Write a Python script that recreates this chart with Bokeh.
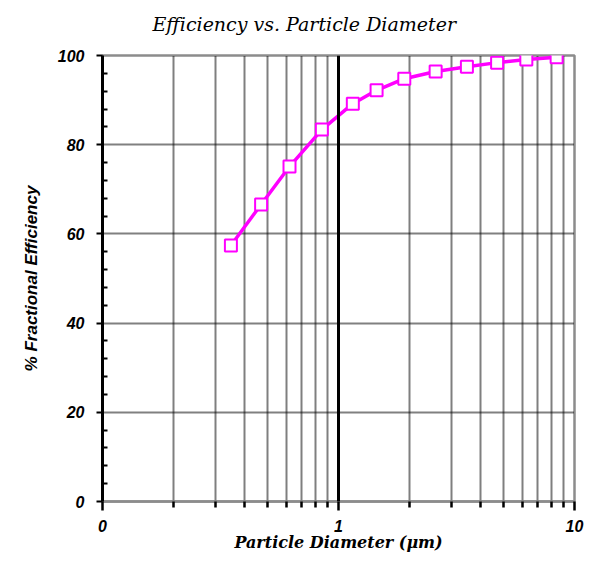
from bokeh.plotting import figure
from bokeh.models import Range1d, FixedTicker, Span, Title
from bokeh.embed import file_html
from bokeh.resources import INLINE

# data
diameter = [0.35, 0.47, 0.62, 0.85, 1.15, 1.45, 1.9, 2.58, 3.5, 4.7, 6.25, 8.4]
efficiency = [57.4, 66.6, 75.1, 83.4, 89.2, 92.2, 94.8, 96.4, 97.5, 98.4, 99.1, 99.6]

x_major = [0.1, 1, 10]
x_tick_labels = ["0", "1", "10"]
x_minor = [0.2, 0.3, 0.4, 0.5, 0.6, 0.7, 0.8, 0.9, 2, 3, 4, 5, 6, 7, 8, 9]
y_major = [0, 20, 40, 60, 80, 100]
y_minor = [4, 8, 12, 16, 24, 28, 32, 36, 44, 48, 52, 56, 64, 68, 72, 76, 84, 88, 92, 96]
y_grid = [20, 40, 60, 80]
title_text = "Efficiency vs. Particle Diameter"

p = figure(width=596, height=558, x_axis_type="log",
           x_range=Range1d(0.1, 10), y_range=Range1d(0, 100),
           output_backend="svg", toolbar_location=None,
           min_border_left=102, min_border_right=22, min_border_top=55, min_border_bottom=57,
           frame_width=472, frame_height=446)

# spacer between the frame and the title, then the title itself
p.add_layout(Title(text=" ", text_font_size="17px", standoff=0), "above")
p.add_layout(Title(text=title_text, text_font="DejaVu Serif", text_font_style="italic",
                   text_font_size="19px", text_color="black", align="left",
                   offset=50, standoff=0), "above")

p.outline_line_color = "#8c8c8c"
p.outline_line_width = 2.5
p.background_fill_color = "white"
p.border_fill_color = "white"

# grids
p.xgrid.ticker = FixedTicker(ticks=x_minor)
p.xgrid.grid_line_color = "black"
p.xgrid.grid_line_width = 2
p.xgrid.grid_line_dash = "1 1"
p.ygrid.ticker = FixedTicker(ticks=y_grid)
p.ygrid.grid_line_color = "black"
p.ygrid.grid_line_width = 2
p.ygrid.grid_line_dash = "1 1"

p.add_layout(Span(location=1, dimension="height", line_color="black", line_width=3))

# x axis
xa = p.xaxis[0]
xa.ticker = FixedTicker(ticks=x_major, minor_ticks=x_minor)
xa.major_label_overrides = {v: t for v, t in zip(x_major, x_tick_labels)}
xa.axis_line_color = "#8c8c8c"
xa.axis_line_width = 2.5
xa.major_tick_line_color = "black"
xa.major_tick_line_width = 2.5
xa.major_tick_in = 0
xa.major_tick_out = 9
xa.minor_tick_line_color = "black"
xa.minor_tick_line_width = 2.5
xa.minor_tick_in = 0
xa.minor_tick_out = 6
xa.major_label_text_font = "Liberation Sans"
xa.major_label_text_font_style = "bold italic"
xa.major_label_text_font_size = "16px"
xa.major_label_text_color = "black"
xa.major_label_standoff = 9
xa.axis_label = "Particle Diameter (\u03bcm)"
xa.axis_label_text_font = "DejaVu Serif"
xa.axis_label_text_font_style = "bold italic"
xa.axis_label_text_font_size = "16px"
xa.axis_label_text_color = "black"
xa.axis_label_standoff = -2

# y axis
ya = p.yaxis[0]
ya.ticker = FixedTicker(ticks=y_major, minor_ticks=y_minor)
ya.axis_line_color = "black"
ya.axis_line_width = 3
ya.major_tick_line_color = "black"
ya.major_tick_line_width = 2
ya.major_tick_in = 0
ya.major_tick_out = 6
ya.minor_tick_line_color = "black"
ya.minor_tick_line_width = 2
ya.minor_tick_in = 5
ya.minor_tick_out = 0
ya.major_label_text_font = "Liberation Sans"
ya.major_label_text_font_style = "bold italic"
ya.major_label_text_font_size = "16px"
ya.major_label_text_color = "black"
ya.major_label_standoff = 12
ya.axis_label = "% Fractional Efficiency"
ya.axis_label_text_font = "Liberation Sans"
ya.axis_label_text_font_style = "bold italic"
ya.axis_label_text_font_size = "17px"
ya.axis_label_text_color = "black"
ya.axis_label_standoff = 14

# series
p.line(diameter, efficiency, line_color="#ff00ff", line_width=3.5)
p.scatter(diameter, efficiency, marker="square", size=12,
          line_color="#ff00ff", line_width=2, fill_color="white")

open("out.html", "w").write(file_html(p, INLINE))
